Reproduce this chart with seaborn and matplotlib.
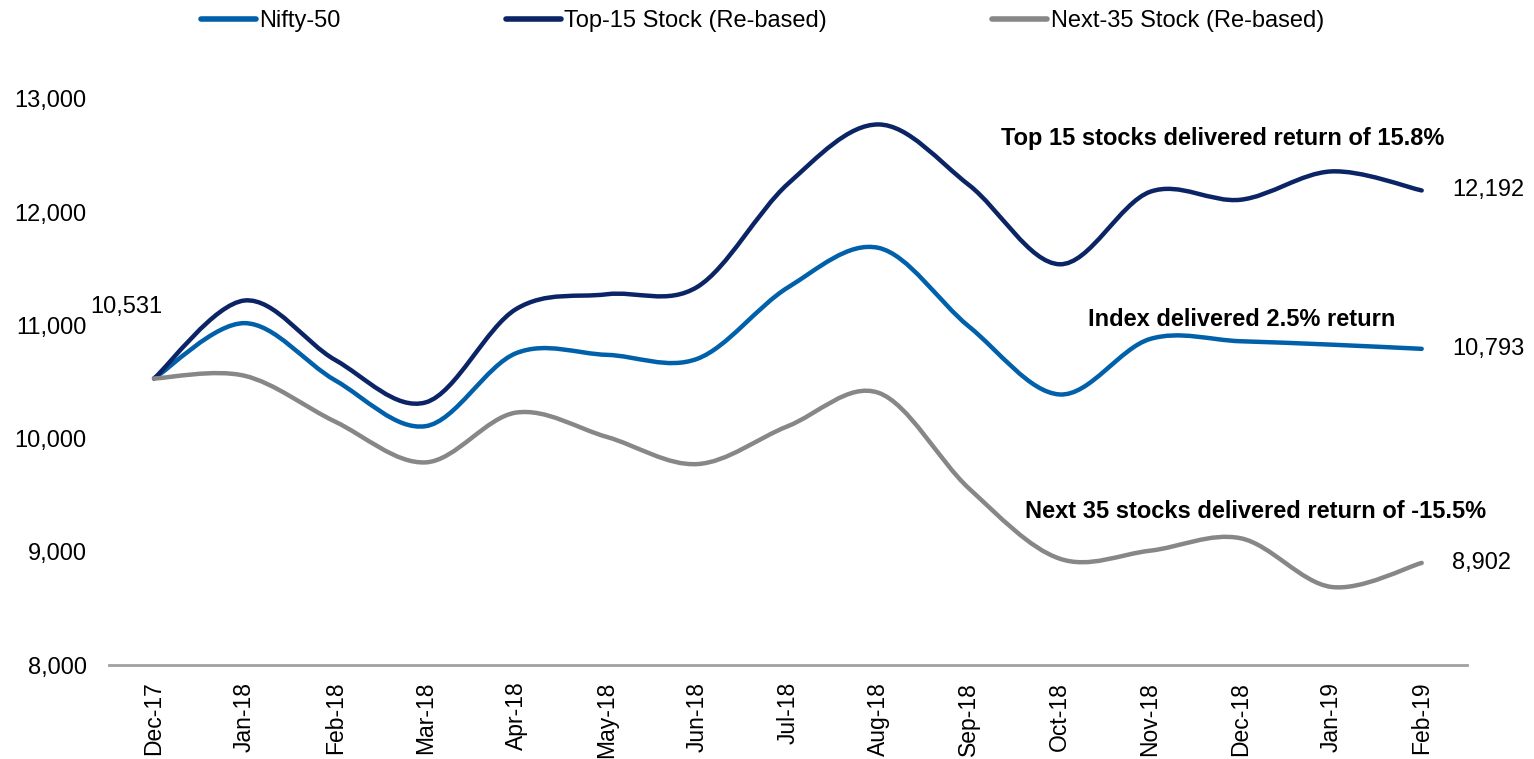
import numpy as np
import pandas as pd
import matplotlib
matplotlib.use("Agg")
import matplotlib.pyplot as plt
from matplotlib.path import Path
from matplotlib.patches import PathPatch
from matplotlib.lines import Line2D
from matplotlib.ticker import FuncFormatter
import seaborn as sns

# values (monthly, re-based)
months = ["Dec-17", "Jan-18", "Feb-18", "Mar-18", "Apr-18", "May-18", "Jun-18", "Jul-18",
          "Aug-18", "Sep-18", "Oct-18", "Nov-18", "Dec-18", "Jan-19", "Feb-19"]
nifty = [10531, 11020, 10515, 10110, 10755, 10740, 10705, 11335,
         11685, 10990, 10390, 10880, 10860, 10830, 10793]
top15 = [10531, 11220, 10695, 10320, 11145, 11275, 11340, 12250,
         12775, 12240, 11540, 12180, 12110, 12360, 12192]
next35 = [10531, 10555, 10150, 9790, 10230, 10015, 9775, 10110,
          10405, 9560, 8940, 9010, 9120, 8690, 8902]

series_names = ["Nifty-50", "Top-15 Stock (Re-based)", "Next-35 Stock (Re-based)"]
series_vals = [nifty, top15, next35]
colors = ["#0060AA", "#0B2465", "#878787"]

notes = ["Top 15 stocks delivered return of 15.8%",
         "Index delivered 2.5% return",
         "Next 35 stocks delivered return of -15.5%"]

sns.set_theme(style="white")
plt.rcParams["font.family"] = ["Liberation Sans", "DejaVu Sans"]
plt.rcParams["text.color"] = "black"
plt.rcParams["xtick.color"] = "black"
plt.rcParams["ytick.color"] = "black"

fig = plt.figure(figsize=(15.34, 7.59), dpi=100)
ax = fig.add_axes([0.0709, 0.1238, 0.8854, 0.7458])

xpos = np.arange(len(months))


def smooth_path(xy):
    # Excel-style smoothed line: cubic bezier through each data point
    n = len(xy)
    verts = [xy[0]]
    codes = [Path.MOVETO]
    for i in range(n - 1):
        p0 = xy[i - 1] if i > 0 else xy[i]
        p1 = xy[i]
        p2 = xy[i + 1]
        p3 = xy[i + 2] if i + 2 < n else xy[i + 1]
        verts += [p1 + (p2 - p0) / 6, p2 - (p3 - p1) / 6, p2]
        codes += [Path.CURVE4] * 3
    return Path(verts, codes)


for name, vals, c in zip(series_names, series_vals, colors):
    sns.lineplot(x=xpos, y=vals, color=c, linewidth=3, ax=ax, legend=False)
    line = ax.lines[-1]
    patch = PathPatch(smooth_path(line.get_xydata()), facecolor="none", edgecolor=c,
                      lw=3.2, capstyle="round", joinstyle="round", zorder=3)
    ax.add_patch(patch)
    line.set_visible(False)

ax.set_xlim(-0.5, len(months) - 0.5)
ax.set_ylim(8000, 13000)
ax.set_yticks([8000, 9000, 10000, 11000, 12000, 13000])
ax.yaxis.set_major_formatter(FuncFormatter(lambda v, p: f"{v:,.0f}"))
ax.set_xticks(xpos)
ax.set_xticklabels(months, rotation=90)
ax.tick_params(axis="y", length=0, pad=16, labelsize=17, labelcolor="black")
ax.tick_params(axis="x", length=0, pad=12, labelsize=16.5, labelcolor="black")
ax.set_xlabel("")
ax.set_ylabel("")

for s in ["top", "left", "right"]:
    ax.spines[s].set_visible(False)
ax.spines["bottom"].set_color("#A0A0A0")
ax.spines["bottom"].set_linewidth(2)

# start / end value labels
ax.text(0.09, 11163, f"{nifty[0]:,}", ha="right", va="center", fontsize=17, color="black")
for vals in series_vals:
    ax.text(len(months) - 1 + 0.34, vals[-1], f"{vals[-1]:,}", ha="left", va="center",
            fontsize=17, color="black")

# callouts
ax.text(11.80, 12655, notes[0], ha="center", va="center", fontsize=17, fontweight="bold", color="black")
ax.text(12.01, 11048, notes[1], ha="center", va="center", fontsize=17, fontweight="bold", color="black")
ax.text(12.16, 9352, notes[2], ha="center", va="center", fontsize=17, fontweight="bold", color="black")

handles = [Line2D([], [], color=c, lw=4, solid_capstyle="round") for c in colors]
leg = fig.legend(handles, series_names, loc="center", bbox_to_anchor=(0.497, 0.972), ncol=3,
                 frameon=False, fontsize=17, handlelength=2.33, handletextpad=0.15,
                 columnspacing=7)
for t in leg.get_texts():
    t.set_color("black")

fig.savefig("out.png", dpi=100)
